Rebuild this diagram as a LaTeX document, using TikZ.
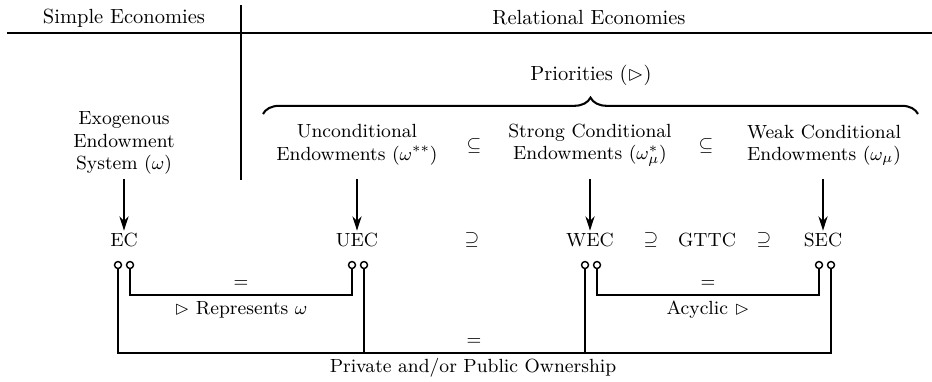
\documentclass[tikz,border=0pt]{standalone}
\usepackage{amssymb}
\usetikzlibrary{arrows.meta,decorations.pathreplacing}
\begin{document}
\begin{tikzpicture}[x=0.488pt,y=-0.488pt,
  rule/.style={line width=1pt},
  head/.style={align=center,inner sep=1pt},
  lbl/.style={align=center,inner sep=1pt,font=\fontsize{9.3pt}{11pt}\selectfont},
  arr/.style={line width=0.8pt,-{Stealth[length=7pt,width=4.5pt]}},
  port/.style={circle,draw,line width=0.7pt,fill=white,inner sep=0pt,minimum size=3.4pt},
  wire/.style={line width=1pt}]
\useasboundingbox (0,0) rectangle (932,381);
% headers
\node[head] (simple) at (124,18) {Simple Economies};
\node[head] (relational) at (589,18) {Relational Economies};
\coordinate (hl) at (7,33);
\coordinate (hr) at (932,33);
\draw[rule] (hl) -- (hr);
\coordinate (vt) at (241,5);
\coordinate (vb) at (241,180);
\draw[rule] (vt) -- (vb);
% priorities brace
\node[head] (prio) at (591,75) {Priorities ($\rhd$)};
\coordinate (bl) at (263,114);
\coordinate (br) at (918,114);
\draw[line width=1pt,decorate,decoration={brace,amplitude=8pt}] (bl) -- (br);
% endowment nodes
\node[lbl] (exo) at (124,143) {Exogenous\\Endowment\\System ($\omega$)};
\node[lbl] (unc) at (357,145) {Unconditional\\Endowments ($\omega^{**}$)};
\node[lbl] (sub1) at (474,146) {$\subseteq$};
\node[lbl] (strong) at (590,145) {Strong Conditional\\Endowments ($\omega^{*}_{\mu}$)};
\node[lbl] (sub2) at (706,146) {$\subseteq$};
\node[lbl] (weak) at (824,145) {Weak Conditional\\Endowments ($\omega_{\mu}$)};
% mechanisms
\node[lbl] (ec) at (124,240) {EC};
\node[lbl] (uec) at (357,240) {UEC};
\node[lbl] (sup1) at (472,240) {$\supseteq$};
\node[lbl] (wec) at (590,240) {WEC};
\node[lbl] (sup2) at (651,240) {$\supseteq$};
\node[lbl] (gttc) at (707,240) {GTTC};
\node[lbl] (sup3) at (764,240) {$\supseteq$};
\node[lbl] (sec) at (823,240) {SEC};
% arrows
\draw[arr] (ec.north |- 0,179) -- (ec.north);
\draw[arr] (uec.north |- 0,179) -- (uec.north);
\draw[arr] (wec.north |- 0,179) -- (wec.north);
\draw[arr] (sec.north |- 0,179) -- (sec.north);
% ports
\node[port] (ecL) at (118,265) {};
\node[port] (ecR) at (130,265) {};
\node[port] (uecL) at (352,265) {};
\node[port] (uecR) at (364,265) {};
\node[port] (wecL) at (585,265) {};
\node[port] (wecR) at (597,265) {};
\node[port] (secL) at (819,265) {};
\node[port] (secR) at (831,265) {};
% inner brackets
\draw[wire] (ecR.south) |- (uecL.south |- 0,295) -- (uecL.south);
\node[lbl] (eq1) at (241,284) {$=$};
\node[lbl] (rep) at (241,310) {$\rhd$ Represents $\omega$};
\draw[wire] (wecR.south) |- (secL.south |- 0,295) -- (secL.south);
\node[lbl] (eq2) at (708,284) {$=$};
\node[lbl] (acy) at (708,310) {Acyclic $\rhd$};
% outer bracket
\draw[wire] (ecL.south) |- (secR.south |- 0,353) -- (secR.south);
\draw[wire] (uecR.south) -- (uecR.south |- 0,353);
\draw[wire] (wecL.south) -- (wecL.south |- 0,353);
\node[lbl] (eq3) at (474,342) {$=$};
\node[lbl] (own) at (473,368) {Private and/or Public Ownership};
\end{tikzpicture}
\end{document}
